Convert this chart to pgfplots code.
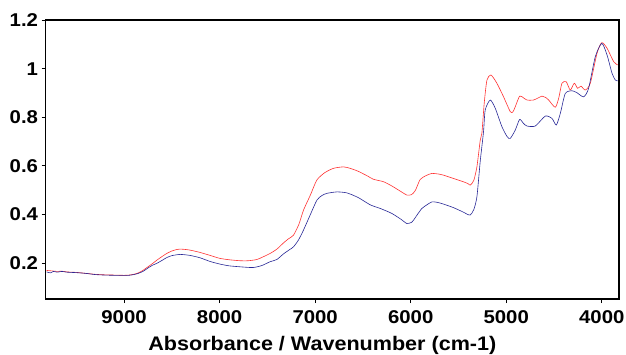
\documentclass[border=0pt]{standalone}
\usepackage{fontspec}
\setmainfont{Liberation Sans}[FakeStretch=1.1]
\usepackage{pgfplots}
\pgfplotsset{compat=1.18}
\definecolor{specred}{RGB}{255,50,50}
\definecolor{specblue}{RGB}{40,40,150}
\begin{document}
\begin{tikzpicture}
\begin{axis}[
  at={(0,0)}, anchor=south west,
  scale only axis, width=573pt, height=279pt,
  x dir=reverse, xmin=3820, xmax=9820, ymin=0.052, ymax=1.2,
  xtick={4000,5000,6000,7000,8000,9000},
  ytick={0.2,0.4,0.6,0.8,1,1.2},
  yticklabels={0.2,0.4,0.6,0.8,1,1.2},
  /pgf/number format/1000 sep={},
  /pgf/number format/assume math mode=true,
  tick label style={font=\bfseries\fontsize{18.5}{20}\selectfont},
  x tick label style={inner ysep=0pt, yshift=-7pt},
  y tick label style={inner xsep=0pt, xshift=-3.5pt},
  xlabel={Absorbance / Wavenumber (cm-1)},
  xlabel style={font=\bfseries\fontsize{19.6}{22}\selectfont, at={(axis description cs:0.5,0)}, anchor=north, inner sep=0pt, yshift=-37pt, xshift=-10pt},
  axis line style={line width=1.5pt},
  tick style={black, line width=1pt},
  tick align=outside, major tick length=4pt,
  xtick pos=bottom, ytick pos=left,
]
\addplot[specred, line width=0.6pt, smooth, tension=0.4] coordinates {
(9810,0.170) (9750,0.168) (9700,0.166) (9650,0.167) (9600,0.164) (9500,0.162) (9400,0.158) (9300,0.154) (9200,0.152) (9100,0.151) (9000,0.150) (8950,0.151) (8900,0.154) (8850,0.160) (8800,0.171) (8750,0.185) (8700,0.199) (8658,0.212) (8600,0.228) (8553,0.240) (8500,0.250) (8450,0.256) (8414,0.258) (8350,0.256) (8300,0.253) (8204,0.244) (8100,0.232) (8000,0.220) (7900,0.214) (7785,0.210) (7700,0.210) (7610,0.215) (7550,0.225) (7471,0.240) (7400,0.258) (7332,0.283) (7280,0.300) (7227,0.315) (7170,0.360) (7122,0.418) (7050,0.480) (6982,0.542) (6900,0.572) (6808,0.590) (6704,0.596) (6634,0.590) (6550,0.578) (6450,0.558) (6390,0.545) (6285,0.535) (6200,0.518) (6100,0.494) (6040,0.480) (5990,0.482) (5950,0.500) (5901,0.544) (5840,0.560) (5778,0.569) (5700,0.566) (5657,0.562) (5550,0.548) (5450,0.535) (5400,0.527) (5377,0.521) (5340,0.540) (5307,0.596) (5272,0.706) (5255,0.734) (5230,0.860) (5202,0.953) (5160,0.974) (5098,0.940) (5028,0.884) (4958,0.823) (4930,0.822) (4906,0.843) (4860,0.887) (4820,0.880) (4783,0.871) (4713,0.871) (4626,0.887) (4590,0.882) (4556,0.871) (4487,0.841) (4450,0.880) (4417,0.940) (4372,0.946) (4330,0.912) (4288,0.940) (4253,0.919) (4218,0.928) (4173,0.912) (4120,0.940) (4050,1.063) (4000,1.107) (3945,1.084) (3876,1.029) (3834,1.015)
};
\addplot[specblue, line width=0.6pt, smooth, tension=0.4] coordinates {
(9810,0.164) (9770,0.160) (9740,0.166) (9700,0.163) (9650,0.166) (9600,0.163) (9500,0.161) (9400,0.158) (9300,0.153) (9200,0.151) (9100,0.150) (9000,0.150) (8950,0.150) (8900,0.153) (8850,0.158) (8798,0.167) (8750,0.180) (8700,0.192) (8658,0.199) (8600,0.212) (8553,0.223) (8500,0.231) (8414,0.236) (8350,0.234) (8309,0.232) (8204,0.222) (8100,0.207) (7995,0.196) (7900,0.189) (7785,0.185) (7652,0.182) (7560,0.190) (7471,0.206) (7401,0.215) (7332,0.238) (7270,0.255) (7227,0.267) (7175,0.295) (7122,0.336) (7050,0.400) (6982,0.459) (6930,0.478) (6878,0.487) (6773,0.493) (6668,0.489) (6550,0.470) (6424,0.440) (6319,0.425) (6200,0.405) (6100,0.380) (6040,0.363) (5990,0.368) (5970,0.377) (5930,0.400) (5883,0.425) (5830,0.440) (5778,0.452) (5720,0.450) (5657,0.443) (5550,0.428) (5450,0.410) (5412,0.402) (5377,0.398) (5340,0.420) (5307,0.473) (5272,0.620) (5238,0.740) (5220,0.830) (5168,0.871) (5115,0.837) (5045,0.761) (4990,0.720) (4958,0.713) (4906,0.747) (4860,0.791) (4820,0.775) (4783,0.764) (4696,0.764) (4591,0.805) (4521,0.795) (4476,0.768) (4434,0.816) (4382,0.898) (4312,0.909) (4260,0.901) (4190,0.884) (4138,0.919) (4068,1.049) (4000,1.104) (3945,1.056) (3893,0.981) (3858,0.953) (3834,0.950)
};
\end{axis}
\pgfresetboundingbox
\path[use as bounding box] (-45.7pt,-55pt) rectangle (580pt,299pt);
\end{tikzpicture}
\end{document}
